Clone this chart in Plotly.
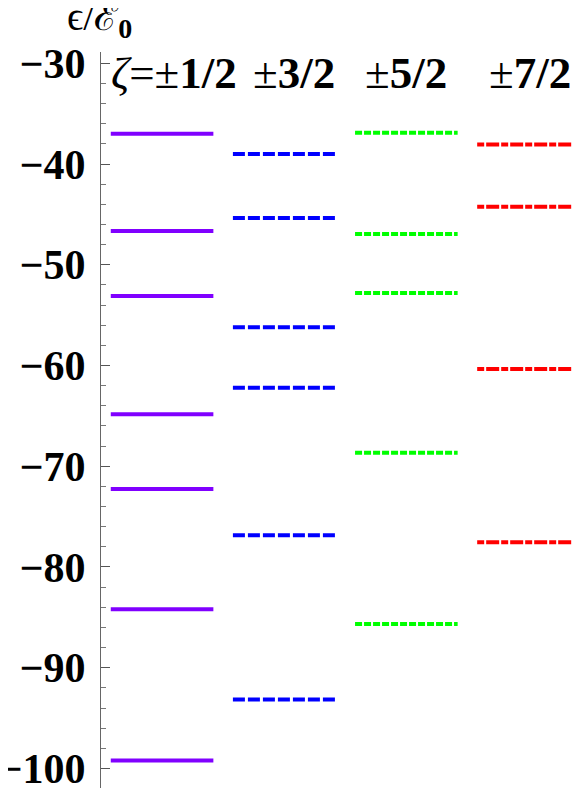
import plotly.graph_objects as go

# energy levels, one column per zeta value
columns = ["±1/2", "±3/2", "±5/2", "±7/2"]
levels_12 = [-37.0, -46.65, -53.1, -64.85, -72.25, -84.2, -99.2]
levels_32 = [-39.0, -45.35, -56.2, -62.2, -76.85, -93.15]
levels_52 = [-36.9, -46.95, -52.8, -68.65, -85.65]
levels_72 = [-38.05, -44.25, -60.35, -77.55]

all_levels = [levels_12, levels_32, levels_52, levels_72]
colors = ["#8000ff", "#0000ff", "#00ff00", "#ff0000"]
dashes = ["solid", "12px,3px", "7px,2px", "7px,2px,13px,2px"]

serif = "Liberation Serif"
half = 0.42

fig = go.Figure()
for i, (lv, c, d) in enumerate(zip(all_levels, colors, dashes)):
    pos = i + 1
    xs, ys = [], []
    for v in lv:
        xs += [pos - half, pos + half, None]
        ys += [v, v, None]
    fig.add_trace(go.Scatter(x=xs, y=ys, mode="lines", showlegend=False,
                             line=dict(color=c, width=4, dash=d),
                             hoverinfo="skip"))

# column labels
label_x = [1.094, 2.08, 2.997, 4.01]
for i, lab in enumerate(columns):
    txt = "<b>" + lab.replace("±", "</b>±<b>") + "</b>"
    if i == 0:
        txt = "<i>ζ</i>=" + txt
    fig.add_annotation(x=label_x[i], y=-30.95, xref="x", yref="y", text=txt,
                       showarrow=False, xanchor="center", yanchor="middle",
                       font=dict(family=serif, size=45, color="black"))

# axis title
fig.add_annotation(x=-0.003, y=1.045, xref="paper", yref="paper",
                   text="ϵ/ℰ<sub><b>0</b></sub>", showarrow=False,
                   xanchor="center", yanchor="middle",
                   font=dict(family=serif, size=40, color="black"))

fig.update_xaxes(visible=False, range=[0.5, 4.43])
fig.update_yaxes(range=[-101.94, -28.88], dtick=10, showgrid=False, zeroline=False,
                 showline=True, linecolor="#666", linewidth=1, automargin=False,
                 ticks="inside", ticklen=9, tickcolor="#555", tickwidth=1,
                 ticklabelstandoff=6, ticklabeloverflow="allow",
                 tickfont=dict(family=serif, size=42, color="black", weight="bold"),
                 minor=dict(dtick=2, ticks="inside", ticklen=5, tickcolor="#777", showgrid=False))

# page body adds 8px, so the figure is 8px smaller than the window
fig.update_layout(width=573, height=782, plot_bgcolor="white", paper_bgcolor="white",
                  margin=dict(l=93, r=0, t=44, b=2))

fig.write_html("out.html")
